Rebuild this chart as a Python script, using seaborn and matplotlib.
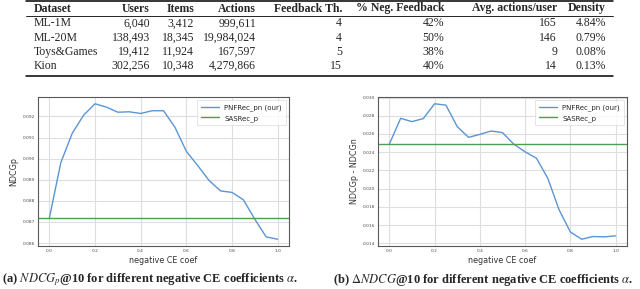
import matplotlib
matplotlib.use("Agg")
import matplotlib.pyplot as plt
from matplotlib.lines import Line2D
import seaborn as sns
import pandas as pd

# ---------------- data ----------------
datasets = ["ML-1M", "ML-20M", "Toys&Games", "Kion"]
users = [6040, 138493, 19412, 302256]
items = [3412, 18345, 11924, 10348]
actions = [999611, 19984024, 167597, 4279866]
feedback_th = [4, 4, 5, 15]
neg_feedback_pct = [42, 50, 38, 40]
avg_actions_user = [165, 146, 9, 14]
density_pct = [4.84, 0.79, 0.08, 0.13]
table_headers = ["Dataset", "Users", "Items", "Actions", "Feedback Th.",
                 "% Neg. Feedback", "Avg. actions/user", "Density"]

neg_ce_coef = [0.0, 0.05, 0.1, 0.15, 0.2, 0.25, 0.3, 0.35, 0.4, 0.45, 0.5,
               0.55, 0.6, 0.65, 0.7, 0.75, 0.8, 0.85, 0.9, 0.95, 1.0]
ndcgp_pnfrec = [0.08719, 0.08981, 0.09120, 0.09206, 0.09260, 0.09244, 0.09220,
                0.09222, 0.09214, 0.09227, 0.09227, 0.09149, 0.09035, 0.08967,
                0.08896, 0.08847, 0.08840, 0.08805, 0.08713, 0.08629, 0.08618]
ndcgp_sasrec = 0.08719
delta_pnfrec = [0.02488, 0.02772, 0.02736, 0.02769, 0.02932, 0.02917, 0.02681,
                0.02563, 0.02596, 0.02633, 0.02615, 0.02488, 0.02404, 0.02334,
                0.02114, 0.01767, 0.01523, 0.01444, 0.01474, 0.01470, 0.01481]
delta_sasrec = 0.02488

series_names = ["PNFRec_pn (our)", "SASRec_p"]
captions = ["(a) $NDCG_p$@10 for different negative CE coefficients $\\alpha$.",
            "(b) $\\Delta NDCG$@10 for different negative CE coefficients $\\alpha$."]
ylabels = ["NDCGp", "NDCGp - NDCGn"]
xlabel = "negative CE coef"

# ---------------- style ----------------
sns.set_style("whitegrid", {"axes.edgecolor": "0.35", "grid.color": "0.87",
                            "axes.linewidth": 0.8})
plt.rcParams["mathtext.fontset"] = "stix"

W, H = 640, 289
fig = plt.figure(figsize=(W / 100, H / 100), dpi=100)

def fx(x):
    return x / W

def fy(y):
    return 1 - y / H

# ---------------- table ----------------
serif = ["Liberation Serif", "DejaVu Serif"]
col_right = [None, 150, 194, 256, 342, 444, 557, 606]
left_x = 34
header_y = 8.5
row_ys = [23.5, 38, 52, 66]
fs_tab = 8.5

for j, h in enumerate(table_headers):
    if j == 0:
        fig.text(fx(left_x), fy(header_y), h, ha="left", va="center",
                 fontsize=fs_tab, fontweight="bold", family=serif)
    else:
        fig.text(fx(col_right[j]), fy(header_y), h, ha="right", va="center",
                 fontsize=fs_tab, fontweight="bold", family=serif)

for i in range(len(datasets)):
    vals = [datasets[i], f"{users[i]:,}", f"{items[i]:,}", f"{actions[i]:,}",
            f"{feedback_th[i]}", f"{neg_feedback_pct[i]}%",
            f"{avg_actions_user[i]}", f"{density_pct[i]:.2f}%"]
    for j, v in enumerate(vals):
        if j == 0:
            fig.text(fx(left_x), fy(row_ys[i]), v, ha="left", va="center",
                     fontsize=fs_tab, family=serif)
        else:
            fig.text(fx(col_right[j]), fy(row_ys[i]), v, ha="right", va="center",
                     fontsize=fs_tab, family=serif)

for yy, lw in [(1.2, 1.1), (15.5, 0.6), (76, 1.1)]:
    fig.add_artist(Line2D([fx(26), fx(613)], [fy(yy), fy(yy)],
                          transform=fig.transFigure, color="black", linewidth=lw))

# ---------------- charts ----------------
blue = "#5b95d3"
green = "#4f9e4f"

ax_specs = [
    (fx(38), fy(246), fx(289) - fx(38), fy(97) - fy(246), ndcgp_pnfrec, ndcgp_sasrec),
    (fx(378), fy(246), fx(627) - fx(378), fy(97) - fy(246), delta_pnfrec, delta_sasrec),
]

for k, (l, b, w, h, yvals, base) in enumerate(ax_specs):
    ax = fig.add_axes([l, b, w, h])
    df = pd.DataFrame({"coef": neg_ce_coef, "value": yvals})
    sns.lineplot(data=df, x="coef", y="value", ax=ax, color=blue,
                 linewidth=1.0, label=series_names[0])
    ax.axhline(base, color=green, linewidth=1.0, label=series_names[1])
    ax.set_xticks([0.0, 0.2, 0.4, 0.6, 0.8, 1.0])
    if k == 0:
        ax.set_yticks([0.086, 0.087, 0.088, 0.089, 0.090, 0.091, 0.092])
    else:
        ax.set_yticks([0.014, 0.016, 0.018, 0.020, 0.022, 0.024, 0.026, 0.028, 0.030])
    ax.yaxis.set_major_formatter(matplotlib.ticker.FormatStrFormatter("%.3f"))
    ax.xaxis.set_major_formatter(matplotlib.ticker.FormatStrFormatter("%.1f"))
    ax.tick_params(labelsize=3.2, pad=2, colors="0.3", length=0)
    ax.set_xlabel(xlabel, fontsize=5.8, labelpad=2, color="0.2")
    ax.set_ylabel(ylabels[k], fontsize=5.8, labelpad=3, color="0.2")
    leg = ax.legend(loc="upper right", fontsize=5, frameon=True,
                    handlelength=2.6, borderpad=0.5, labelspacing=0.6,
                    fancybox=False)
    leg.get_frame().set_edgecolor("0.85")
    leg.get_frame().set_linewidth(0.6)

fig.text(fx(2), fy(280), captions[0], ha="left", va="center", fontsize=9.0,
         fontweight="bold", family=serif)
fig.text(fx(333), fy(280), captions[1], ha="left", va="center", fontsize=9.0,
         fontweight="bold", family=serif)

fig.savefig("out.png", dpi=100)
